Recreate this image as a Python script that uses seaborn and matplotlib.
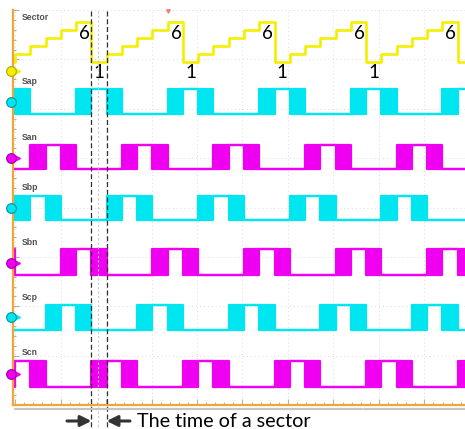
import numpy as np
import matplotlib
matplotlib.use("Agg")
import matplotlib.pyplot as plt
from matplotlib.lines import Line2D
from matplotlib.ticker import FixedLocator
import seaborn as sns

# Sector sequence over the captured window (one entry per sector period)
sector_order = [1, 2, 3, 4, 5, 6] * 5 + [1]
first_sector_start = -1.0          # time of the first entry, in sector periods

# Gate state of each switch in sectors 1..6:
#   H = held on, P = PWM switching, L = off
sap_states = ["H", "P", "L", "L", "L", "P"]
san_states = ["L", "L", "P", "H", "P", "L"]
sbp_states = ["L", "P", "H", "P", "L", "L"]
sbn_states = ["P", "L", "L", "L", "P", "H"]
scp_states = ["L", "L", "L", "P", "H", "P"]
scn_states = ["P", "H", "P", "L", "L", "L"]

channel_names = ["Sap", "San", "Sbp", "Sbn", "Scp", "Scn"]
channel_states = [sap_states, san_states, sbp_states, sbn_states, scp_states, scn_states]

# ---------------------------------------------------------------- styling
sns.set_theme(style="white")
plt.rcParams["font.family"] = ["Lato", "DejaVu Sans"]

YELLOW = "#f3ef00"
CYAN = "#00e6f0"
MAGENTA = "#f000f0"
ORANGE = "#f0a535"
GRID = "#dadada"

W, H = 465, 429
fig = plt.figure(figsize=(W / 100, H / 100), dpi=100)
fig.patch.set_facecolor("white")

# scope screen (pixel frame of the display area)
left_px, right_px, top_px, bot_px = 13, 465, 10, 405
ax = fig.add_axes([left_px / W, 1 - bot_px / H,
                   (right_px - left_px) / W, (bot_px - top_px) / H])

px_per_sector = 15.26
t_origin_px = 15.1


def px2t(px):
    return (px - t_origin_px) / px_per_sector


ax.set_xlim(px2t(left_px), px2t(right_px))
ax.set_ylim(bot_px, top_px)
ax.set_facecolor("white")

# trace rows on screen
sector_row_1 = 62.0
sector_step = 8.0
channel_rows = {  # (high, low)
    "Sap": (89, 114), "San": (145, 169), "Sbp": (196, 220),
    "Sbn": (249, 275), "Scp": (305, 330), "Scn": (361, 387),
}
channel_colors = {"Sap": CYAN, "San": MAGENTA, "Sbp": CYAN,
                  "Sbn": MAGENTA, "Scp": CYAN, "Scn": MAGENTA}
label_rows = {"Sector": 17, "Sap": 81, "San": 137, "Sbp": 187,
              "Sbn": 242, "Scp": 297, "Scn": 352}
marker_rows = {"Sector": 71, "Sap": 102, "San": 158, "Sbp": 208,
               "Sbn": 263, "Scp": 317, "Scn": 374}

starts = first_sector_start + np.arange(len(sector_order))
t_edges = np.append(starts, starts[-1] + 1)

# ---------------------------------------------------------------- grid / frame
ax.xaxis.set_major_locator(FixedLocator(np.arange(0, 30, 2.98)))
ax.xaxis.set_minor_locator(FixedLocator(np.arange(0, 30, 2.98 / 5)))
ax.yaxis.set_major_locator(FixedLocator(np.arange(top_px, bot_px + 1, 49.375)))
ax.yaxis.set_minor_locator(FixedLocator(np.arange(top_px, bot_px + 1, 49.375 / 5)))
ax.grid(True, which="major", color=GRID, linestyle=(0, (1, 3)), linewidth=0.7)
ax.set_xticklabels([])
ax.set_yticklabels([])
ax.tick_params(which="both", direction="in", color="#b0b0b0", width=0.8,
               left=True, bottom=True, top=False, right=False)
ax.tick_params(which="major", length=4)
ax.tick_params(which="minor", length=2.5)
for side in ("top", "right"):
    ax.spines[side].set_visible(False)
for side in ("left", "bottom"):
    ax.spines[side].set_color(ORANGE)
    ax.spines[side].set_linewidth(1.6)

# ---------------------------------------------------------------- sector trace
sector_rows = [sector_row_1 - (s - 1) * sector_step for s in sector_order]
sns.lineplot(x=t_edges, y=sector_rows + [sector_rows[-1]], drawstyle="steps-post",
             estimator=None, sort=False, color=YELLOW, linewidth=1.9, ax=ax)

for k, s in enumerate(sector_order):
    centre = starts[k] + 0.5
    if not (ax.get_xlim()[0] < centre < ax.get_xlim()[1]):
        continue
    if s == 6:
        ax.text(centre + 0.05, 33, str(s), ha="center", va="center",
                fontsize=13.5, color="black")
    elif s == 1:
        ax.text(centre, 72, str(s), ha="center", va="center",
                fontsize=13.5, color="black")

# ---------------------------------------------------------------- gate traces
for name, states in zip(channel_names, channel_states):
    hi, lo = channel_rows[name]
    col = channel_colors[name]
    st = [states[s - 1] for s in sector_order]
    top = [hi if x in "HP" else lo for x in st]
    bot = [lo if x in "LP" else hi for x in st]
    top.append(top[-1])
    bot.append(bot[-1])
    ax.fill_between(t_edges, bot, top, step="post", color=col, linewidth=0)
    sns.lineplot(x=t_edges, y=top, drawstyle="steps-post", estimator=None,
                 sort=False, color=col, linewidth=1.6, ax=ax)
    sns.lineplot(x=t_edges, y=bot, drawstyle="steps-post", estimator=None,
                 sort=False, color=col, linewidth=1.6, ax=ax)

# ---------------------------------------------------------------- channel tags
label_x = px2t(22)
for name in ["Sector"] + channel_names:
    ax.text(label_x, label_rows[name], name, ha="left", va="center",
            fontsize=6.2, fontweight="bold", color="#505050",
            family=["Liberation Sans", "DejaVu Sans"])

marker_colors = {"Sector": YELLOW, **channel_colors}
edge_colors = {YELLOW: "#b0a800", CYAN: "#0090a0", MAGENTA: "#a000a0"}
for name, row in marker_rows.items():
    c = marker_colors[name]
    ax.plot(px2t(17), row, marker=">", ms=5, color=c, mec=c, clip_on=False, zorder=9)
    ax.plot(px2t(11), row, marker="o", ms=7, color=c, mec=edge_colors[c],
            mew=0.8, clip_on=False, zorder=10)

# trigger mark at the top edge
ax.plot(px2t(168), 11, marker="v", ms=2.5, color="#f08070", clip_on=False, zorder=10)

# ---------------------------------------------------------------- sector cursors
sector1_start = starts[sector_order.index(1, 1)]
sector1_end = sector1_start + 1
for tc in (sector1_start, sector1_end):
    ax.plot([tc, tc], [11, 428], color="#303030", linewidth=0.9,
            linestyle=(0, (4, 2.2)), clip_on=False, zorder=8)
ax.plot([px2t(97.5)] * 2, [11, 428], color="#c8c8c8", linewidth=0.8,
        linestyle=(0, (2, 2)), clip_on=False, zorder=7)

# scroll bar under the screen
fig.add_artist(Line2D([15 / W, 362 / W], [1 - 408.5 / H] * 2, color="#c4c4c4", lw=1.6))
fig.add_artist(Line2D([364 / W, 1.0], [1 - 408.5 / H] * 2, color="#c4c4c4", lw=1.6))

# ---------------------------------------------------------------- annotation
arrow_kw = dict(arrowstyle="-|>", color="#333333", lw=2.2, mutation_scale=16,
                shrinkA=0, shrinkB=0)
ax.annotate("", xy=(sector1_start, 421), xytext=(px2t(67), 421),
            arrowprops=arrow_kw, annotation_clip=False)
ax.annotate("", xy=(sector1_end, 421), xytext=(px2t(130), 421),
            arrowprops=arrow_kw, annotation_clip=False)
ax.text(px2t(137), 421, "The time of a sector", ha="left", va="center",
        fontsize=14.2, color="black")

fig.savefig("out.png", dpi=100)
